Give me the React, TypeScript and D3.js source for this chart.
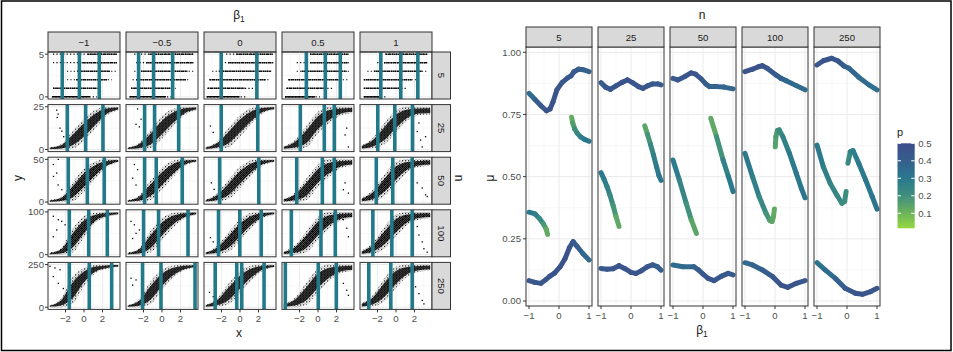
import React from "react";
import * as d3 from "d3";

// ---------------- data ----------------
const BETA_LABELS = ["\u22121", "\u22120.5", "0", "0.5", "1"];
const N_VALUES = [5, 25, 50, 100, 250];
const X_TICKS = [-2, 0, 2];
const MU_TICKS = [0, 0.25, 0.5, 0.75, 1];
const BETA_TICKS = [-1, 0, 1];
const P_TICKS = [0.1, 0.2, 0.3, 0.4, 0.5];

// vertical reference lines (x) per row (n) and column (beta1)
const VLINES: number[][][] = [
  [[-2.35, -0.5, 1.65], [-2.53, -0.91, 1.15], [-2.03, 1.82], [-1.26, 0.79, 2.41], [-1.64, 0.52, 2.36]],
  [[-1.8, 0.18, 2.05], [-1.88, -0.8, 1.8], [-2.03, 1.92], [-1.91, 0.68, 1.76], [-1.97, -0.13, 1.78]],
  [[-1.7, 0.36, 2.19], [-1.88, -0.62, 2.19], [-2.2, 2.03], [-2.3, 0.47, 1.76], [-2.13, -0.35, 1.75]],
  [[-1.59, 0.51, 2.52], [-1.99, -0.37, 2.81], [-2.32, -0.02, 2.29], [-2.88, 0.32, 1.87], [-2.5, -0.45, 1.75]],
  [[-1.59, 0.57, 2.99], [-2.1, -0.11, 3.57], [-2.68, -0.35, 0.19, 2.6], [-3.53, 0.03, 1.98], [-2.94, -0.56, 1.75]],
];

// n = 5 row: for each beta column, per level [level, sparseStart, denseStart, denseEnd, sparseEnd]
const LEVELS_N5: number[][][] = [
  [[5, -3.35, 0.43, 3.57, 3.6], [4, -3.35, -0.2, 3.57, 3.6], [3, -1.84, -0.76, 2.8, 3.5], [2, -1.84, -0.86, 2.5, 3.0], [1, -3.35, -3.35, 1.4, 1.8], [0, -3.46, -3.46, 0.65, 1.4]],
  [[5, -3.0, -1.37, 3.4, 3.4], [4, -2.8, -1.73, 3.4, 3.4], [3, -3.0, -2.27, 2.77, 3.4], [2, -3.18, -2.8, 2.6, 2.9], [1, -3.35, -3.35, 1.15, 1.5], [0, -3.5, -3.5, 0.43, 1.15]],
  [[5, -1.5, -0.4, 3.55, 3.6], [4, -2.0, -1.3, 3.55, 3.6], [3, -3.0, -2.3, 3.3, 3.5], [2, -3.3, -3.3, 2.83, 3.3], [1, -3.5, -3.5, 0.5, 1.5], [0, -3.6, -3.6, -0.05, 0.8]],
  [[5, -0.86, -0.86, 3.28, 3.3], [4, -2.3, -0.86, 3.28, 3.3], [3, -2.3, -1.77, 3.1, 3.4], [2, -3.2, -3.2, 2.38, 3.3], [1, -3.4, -3.4, 0.94, 1.6], [0, -3.57, -3.57, -0.32, 0.2]],
  [[5, -1.14, -1.14, 3.37, 3.4], [4, -2.03, -1.3, 3.37, 3.4], [3, -3.1, -2.4, 2.83, 3.37], [2, -3.48, -3.48, 1.75, 2.3], [1, -3.48, -3.48, 0.49, 1.2], [0, -3.48, -3.48, -1.5, -1.0]],
];

// rows n = 25..250: scatter cloud envelope (fraction of n) at BAND_X
const BAND_X = [-3.7, -2.5, -1.25, 0, 1.25, 2.5, 3.7];
const BAND_LO: number[][][] = [
  [[0, 0, 0.02, 0.2, 0.5, 0.8, 0.92], [0, 0, 0.03, 0.25, 0.55, 0.82, 0.92], [0, 0.01, 0.05, 0.3, 0.6, 0.85, 0.93], [0, 0, 0.05, 0.38, 0.62, 0.8, 0.85], [0, 0.02, 0.12, 0.4, 0.68, 0.8, 0.82]],
  [[0, 0, 0.02, 0.25, 0.55, 0.82, 0.93], [0, 0, 0.05, 0.3, 0.6, 0.85, 0.93], [0, 0.01, 0.07, 0.33, 0.63, 0.86, 0.93], [0, 0, 0.05, 0.35, 0.6, 0.8, 0.85], [0, 0.02, 0.14, 0.42, 0.7, 0.82, 0.85]],
  [[0, 0, 0.05, 0.4, 0.75, 0.88, 0.93], [0, 0, 0.05, 0.35, 0.65, 0.85, 0.93], [0, 0.01, 0.07, 0.33, 0.63, 0.86, 0.93], [0, 0, 0.06, 0.35, 0.62, 0.8, 0.85], [0, 0.02, 0.14, 0.42, 0.7, 0.82, 0.85]],
  [[0, 0, 0.08, 0.5, 0.8, 0.9, 0.94], [0, 0, 0.07, 0.4, 0.7, 0.87, 0.93], [0, 0.01, 0.07, 0.33, 0.63, 0.86, 0.93], [0, 0, 0.06, 0.35, 0.62, 0.8, 0.85], [0, 0.02, 0.14, 0.45, 0.72, 0.83, 0.86]],
];
const BAND_HI: number[][][] = [
  [[0.05, 0.12, 0.42, 0.72, 0.93, 1, 1], [0.05, 0.15, 0.45, 0.78, 0.95, 1, 1], [0.06, 0.18, 0.5, 0.8, 0.97, 1, 1], [0.08, 0.22, 0.55, 0.88, 1, 1, 1], [0.1, 0.27, 0.62, 0.92, 1, 1, 1]],
  [[0.05, 0.12, 0.45, 0.78, 0.95, 1, 1], [0.05, 0.15, 0.5, 0.8, 0.97, 1, 1], [0.06, 0.2, 0.52, 0.82, 0.98, 1, 1], [0.08, 0.22, 0.55, 0.88, 1, 1, 1], [0.1, 0.28, 0.65, 0.94, 1, 1, 1]],
  [[0.05, 0.15, 0.6, 0.9, 0.98, 1, 1], [0.05, 0.15, 0.55, 0.85, 0.98, 1, 1], [0.06, 0.2, 0.52, 0.82, 0.98, 1, 1], [0.08, 0.22, 0.55, 0.88, 1, 1, 1], [0.1, 0.28, 0.65, 0.94, 1, 1, 1]],
  [[0.05, 0.2, 0.7, 0.92, 0.99, 1, 1], [0.05, 0.18, 0.6, 0.88, 0.98, 1, 1], [0.06, 0.2, 0.55, 0.85, 0.98, 1, 1], [0.08, 0.22, 0.58, 0.9, 1, 1, 1], [0.1, 0.28, 0.68, 0.95, 1, 1, 1]],
];

// isolated points outside the clouds, per row (n = 25..250) and column: [x, fraction of n]
const OUTLIERS: number[][][][] = [
  [
    [[-2.95, 0.92], [-2.8, 0.83], [-2.9, 0.75], [-2.6, 0.5], [-2.4, 0.43], [-2.2, 0.3]],
    [[-2.64, 0.95], [-2.27, 0.71], [-2.81, 0.59], [-2.45, 0.53]],
    [[-3.2, 0.55], [-2.9, 0.4]],
    [[2.92, 0.34], [3.28, 0.06], [3.1, 0.5]],
    [[2.29, 0.42], [2.65, 0.22], [2.83, 0.06], [3.19, 0.3], [2.47, 0.62]],
  ],
  [
    [[-3.32, 0.88], [-2.78, 1.0], [-2.95, 0.68], [-3.3, 0.6], [-2.8, 0.4], [-2.4, 0.29]],
    [[-2.99, 0.88], [-2.64, 0.76], [-3.18, 0.56], [-2.81, 0.4]],
    [[-3.1, 0.45], [-2.8, 0.3]],
    [[2.92, 0.45], [3.28, 0.21], [2.74, 0.29]],
    [[2.29, 0.45], [2.83, 0.33], [3.19, 0.17], [3.37, 0.13]],
  ],
  [
    [[-3.32, 0.9], [-2.78, 0.82], [-2.41, 0.78], [-2.95, 0.58], [-2.05, 0.7], [-3.32, 0.42]],
    [[-3.35, 0.78], [-2.99, 0.7], [-2.81, 0.5], [-3.18, 0.38], [-2.45, 0.58]],
    [[-3.2, 0.4], [-2.9, 0.3]],
    [[2.74, 0.82], [3.1, 0.62], [3.28, 0.42]],
    [[2.29, 0.66], [2.47, 0.46], [2.83, 0.3], [3.01, 0.14], [3.37, 0.06]],
  ],
  [
    [[-3.68, 0.96], [-3.14, 0.92], [-2.59, 0.88], [-3.32, 0.72], [-2.78, 0.56], [-2.24, 0.44]],
    [[-3.35, 0.68], [-2.81, 0.64], [-3.18, 0.52]],
    [[-3.3, 0.35], [-2.9, 0.25]],
    [[2.74, 0.56], [3.1, 0.4], [3.28, 0.28]],
    [[2.11, 0.48], [2.47, 0.32], [2.83, 0.16], [3.01, 0.08]],
  ],
];

// right plot: curves per panel n, points [beta1, mu, p]
const CURVES: number[][][][] = [
  [
    [[-1, 0.835, 0.32], [-0.8, 0.81, 0.38], [-0.6, 0.785, 0.43], [-0.42, 0.765, 0.45], [-0.3, 0.772, 0.46], [-0.2, 0.8, 0.46], [-0.07, 0.849, 0.46], [0.1, 0.878, 0.45], [0.3, 0.898, 0.44], [0.4, 0.905, 0.44], [0.5, 0.922, 0.43], [0.65, 0.932, 0.42], [0.8, 0.93, 0.4], [1, 0.922, 0.38]],
    [[0.42, 0.739, 0.1], [0.46, 0.715, 0.14], [0.52, 0.693, 0.18], [0.61, 0.674, 0.22], [0.72, 0.66, 0.26], [0.85, 0.65, 0.29], [1, 0.642, 0.31]],
    [[-1, 0.357, 0.31], [-0.8, 0.35, 0.29], [-0.65, 0.332, 0.25], [-0.52, 0.31, 0.2], [-0.43, 0.29, 0.15], [-0.38, 0.268, 0.1]],
    [[-1, 0.082, 0.45], [-0.8, 0.075, 0.45], [-0.6, 0.071, 0.44], [-0.45, 0.085, 0.45], [-0.3, 0.1, 0.46], [-0.15, 0.112, 0.46], [0.04, 0.138, 0.46], [0.2, 0.17, 0.46], [0.35, 0.215, 0.46], [0.47, 0.239, 0.45], [0.6, 0.22, 0.42], [0.8, 0.19, 0.38], [1, 0.165, 0.34]],
  ],
  [
    [[-1, 0.878, 0.4], [-0.85, 0.86, 0.44], [-0.69, 0.851, 0.45], [-0.5, 0.865, 0.45], [-0.3, 0.879, 0.46], [-0.12, 0.889, 0.46], [0.05, 0.878, 0.46], [0.25, 0.862, 0.45], [0.4, 0.855, 0.45], [0.55, 0.865, 0.45], [0.72, 0.873, 0.44], [0.9, 0.873, 0.43], [1, 0.869, 0.42]],
    [[-1, 0.516, 0.31], [-0.9, 0.49, 0.29], [-0.8, 0.46, 0.27], [-0.7, 0.425, 0.24], [-0.6, 0.385, 0.2], [-0.5, 0.34, 0.16], [-0.4, 0.3, 0.1]],
    [[0.46, 0.704, 0.12], [0.55, 0.67, 0.16], [0.65, 0.63, 0.21], [0.75, 0.587, 0.25], [0.85, 0.54, 0.28], [0.93, 0.505, 0.3], [1, 0.485, 0.31]],
    [[-1, 0.131, 0.43], [-0.8, 0.128, 0.44], [-0.6, 0.13, 0.45], [-0.4, 0.142, 0.45], [-0.2, 0.13, 0.46], [0, 0.115, 0.46], [0.16, 0.111, 0.46], [0.35, 0.122, 0.45], [0.55, 0.138, 0.45], [0.72, 0.145, 0.44], [0.88, 0.138, 0.42], [1, 0.124, 0.38]],
  ],
  [
    [[-1, 0.895, 0.42], [-0.84, 0.889, 0.44], [-0.6, 0.903, 0.45], [-0.4, 0.917, 0.46], [-0.25, 0.912, 0.46], [-0.06, 0.893, 0.44], [0.1, 0.872, 0.42], [0.22, 0.862, 0.4], [0.45, 0.862, 0.39], [0.7, 0.86, 0.38], [1, 0.853, 0.37]],
    [[-1, 0.567, 0.3], [-0.79, 0.487, 0.27], [-0.56, 0.393, 0.22], [-0.39, 0.326, 0.17], [-0.22, 0.272, 0.11]],
    [[0.26, 0.735, 0.1], [0.45, 0.661, 0.16], [0.67, 0.567, 0.23], [0.85, 0.5, 0.28], [1, 0.44, 0.31]],
    [[-1, 0.145, 0.34], [-0.67, 0.138, 0.35], [-0.3, 0.138, 0.37], [-0.15, 0.125, 0.41], [0, 0.108, 0.44], [0.17, 0.091, 0.46], [0.37, 0.082, 0.46], [0.62, 0.1, 0.45], [0.84, 0.111, 0.43], [1, 0.105, 0.42]],
  ],
  [
    [[-1, 0.922, 0.45], [-0.75, 0.932, 0.46], [-0.55, 0.942, 0.46], [-0.42, 0.946, 0.46], [-0.25, 0.935, 0.45], [0.03, 0.909, 0.42], [0.2, 0.895, 0.4], [0.37, 0.886, 0.38], [0.71, 0.866, 0.35], [1, 0.849, 0.34]],
    [[-1, 0.594, 0.3], [-0.75, 0.5, 0.28], [-0.53, 0.42, 0.25], [-0.3, 0.353, 0.21], [-0.18, 0.325, 0.17], [-0.1, 0.32, 0.14], [-0.05, 0.34, 0.13], [-0.02, 0.37, 0.12]],
    [[0.01, 0.62, 0.14], [0.03, 0.661, 0.16], [0.08, 0.685, 0.18], [0.14, 0.688, 0.2], [0.26, 0.661, 0.24], [0.48, 0.594, 0.28], [0.71, 0.513, 0.3], [0.88, 0.453, 0.31], [1, 0.415, 0.31]],
    [[-1, 0.154, 0.35], [-0.75, 0.145, 0.37], [-0.42, 0.125, 0.4], [-0.08, 0.098, 0.43], [0.2, 0.064, 0.46], [0.43, 0.055, 0.46], [0.71, 0.071, 0.45], [1, 0.082, 0.44]],
  ],
  [
    [[-1, 0.949, 0.44], [-0.79, 0.966, 0.46], [-0.51, 0.976, 0.46], [-0.3, 0.965, 0.45], [-0.1, 0.945, 0.43], [0.06, 0.936, 0.4], [0.39, 0.9, 0.36], [0.73, 0.869, 0.34], [1, 0.849, 0.33]],
    [[-1, 0.627, 0.3], [-0.79, 0.54, 0.28], [-0.56, 0.473, 0.26], [-0.34, 0.426, 0.24], [-0.17, 0.393, 0.22], [-0.08, 0.4, 0.21], [-0.03, 0.44, 0.2]],
    [[0.03, 0.554, 0.21], [0.11, 0.6, 0.24], [0.2, 0.605, 0.27], [0.39, 0.554, 0.29], [0.62, 0.487, 0.3], [0.84, 0.42, 0.31], [1, 0.369, 0.32]],
    [[-1, 0.154, 0.31], [-0.73, 0.125, 0.33], [-0.39, 0.091, 0.37], [-0.06, 0.051, 0.42], [0.28, 0.031, 0.45], [0.51, 0.027, 0.46], [0.79, 0.038, 0.45], [1, 0.051, 0.44]],
  ],
];

const P_STOPS = [0.014, 0.1, 0.2, 0.3, 0.4, 0.5];
const P_COLORS = ["#95D840", "#6DB35A", "#3F8F7E", "#2A788E", "#35608D", "#3E4C8A"];

// ---------------- component ----------------
const FONT = "Liberation Sans, Arial, sans-serif";
const TICK = "#4D4D4D";
const VLINE = "#22798A";

function Beta1({ x, y, size }: { x: number; y: number; size: number }) {
  return (
    <text x={x} y={y} fontSize={size} textAnchor="middle" fill="#1A1A1A" fontFamily={FONT}>
      {"\u03B2"}
      <tspan fontSize={size * 0.7} dy={size * 0.25}>1</tspan>
    </text>
  );
}

export default function App() {
  const color = d3.scaleLinear<string>().domain(P_STOPS).range(P_COLORS).interpolate(d3.interpolateRgb);

  // left plot geometry
  const PW = 72, PH = 47;
  const colX = (c: number) => 48 + c * 78;
  const rowY = (r: number) => 52 + r * 52.6;
  const xs = d3.scaleLinear().domain([-3.89, 3.89]).range([0, PW]);

  const leftPanels: React.ReactNode[] = [];
  N_VALUES.forEach((n, r) => {
    const ys = d3.scaleLinear().domain([-0.05 * n, 1.05 * n]).range([PH, 0]);
    BETA_LABELS.forEach((_, c) => {
      const ox = colX(c), oy = rowY(r);
      const key = `${r}-${c}`;
      const els: React.ReactNode[] = [];
      // grid
      [-3, -1, 1, 3].forEach((v) => els.push(<line key={"mx" + v} x1={xs(v)} x2={xs(v)} y1={0} y2={PH} stroke="#F2F2F2" strokeWidth={0.6} />));
      [n / 2].forEach((v) => els.push(<line key={"my" + v} x1={0} x2={PW} y1={ys(v)} y2={ys(v)} stroke="#F2F2F2" strokeWidth={0.6} />));
      X_TICKS.forEach((v) => els.push(<line key={"gx" + v} x1={xs(v)} x2={xs(v)} y1={0} y2={PH} stroke="#EBEBEB" strokeWidth={1} />));
      [0, n].forEach((v) => els.push(<line key={"gy" + v} x1={0} x2={PW} y1={ys(v)} y2={ys(v)} stroke="#EBEBEB" strokeWidth={1} />));
      if (r === 0) {
        LEVELS_N5[c].forEach(([lv, s0, d0, d1, s1]) => {
          els.push(<line key={"s" + lv} x1={xs(s0)} x2={xs(s1)} y1={ys(lv)} y2={ys(lv)} stroke="#000" strokeWidth={1.2} strokeDasharray="1.2 2.2" />);
          els.push(<line key={"d" + lv} x1={xs(d0)} x2={xs(d1)} y1={ys(lv)} y2={ys(lv)} stroke="#000" strokeWidth={1.5} strokeDasharray={lv === 0 ? "none" : "1.6 0.5"} />);
        });
      } else {
        const lo = BAND_LO[r - 1][c], hi = BAND_HI[r - 1][c];
        const pts = BAND_X.map((x, i) => ({ x, lo: lo[i] * n, hi: hi[i] * n }));
        const outer = d3.area<any>().x((d) => xs(d.x)).y0((d) => ys(d.lo)).y1((d) => ys(d.hi)).curve(d3.curveMonotoneX);
        const inner = d3.area<any>().x((d) => xs(d.x)).y0((d) => ys(d.lo + 0.2 * (d.hi - d.lo))).y1((d) => ys(d.hi - 0.2 * (d.hi - d.lo))).curve(d3.curveMonotoneX);
        els.push(<path key="outer" d={outer(pts) || ""} fill="url(#sparse)" />);
        els.push(<path key="inner" d={inner(pts) || ""} fill="url(#dense)" />);
        OUTLIERS[r - 1][c].forEach(([x, f], i) =>
          els.push(<rect key={"o" + i} x={xs(x) - 0.6} y={ys(f * n) - 0.6} width={1.3} height={1.3} fill="#000" />)
        );
      }
      VLINES[r][c].forEach((v, i) => els.push(<line key={"v" + i} x1={xs(v)} x2={xs(v)} y1={0} y2={PH} stroke={VLINE} strokeWidth={3.6} />));
      leftPanels.push(
        <g key={key} transform={`translate(${ox},${oy})`}>
          <clipPath id={"cl" + key}><rect x={0} y={0} width={PW} height={PH} /></clipPath>
          <g clipPath={`url(#cl${key})`}>{els}</g>
          <rect x={0} y={0} width={PW} height={PH} fill="none" stroke="#333" strokeWidth={1} />
        </g>
      );
    });
  });

  // right plot geometry
  const RPW = 66, RTOP = 47, RBOT = 306;
  const rcolX = (c: number) => 526 + c * 72;
  const bs = d3.scaleLinear().domain([-1.1, 1.1]).range([0, RPW]);
  const ms = d3.scaleLinear().domain([0, 1]).range([301 - RTOP, 52.3 - RTOP]);
  const RH = RBOT - RTOP;

  const rightPanels = N_VALUES.map((n, c) => {
    const els: React.ReactNode[] = [];
    [-0.5, 0.5].forEach((v) => els.push(<line key={"mx" + v} x1={bs(v)} x2={bs(v)} y1={0} y2={RH} stroke="#F2F2F2" strokeWidth={0.6} />));
    [0.125, 0.375, 0.625, 0.875].forEach((v) => els.push(<line key={"my" + v} x1={0} x2={RPW} y1={ms(v)} y2={ms(v)} stroke="#F2F2F2" strokeWidth={0.6} />));
    BETA_TICKS.forEach((v) => els.push(<line key={"gx" + v} x1={bs(v)} x2={bs(v)} y1={0} y2={RH} stroke="#EBEBEB" strokeWidth={1} />));
    MU_TICKS.forEach((v) => els.push(<line key={"gy" + v} x1={0} x2={RPW} y1={ms(v)} y2={ms(v)} stroke="#EBEBEB" strokeWidth={1} />));
    CURVES[c].forEach((seg, si) => {
      for (let i = 0; i < seg.length - 1; i++) {
        const a = seg[i], b = seg[i + 1];
        els.push(
          <line key={`c${si}-${i}`} x1={bs(a[0])} y1={ms(a[1])} x2={bs(b[0])} y2={ms(b[1])}
            stroke={color((a[2] + b[2]) / 2)} strokeWidth={5} strokeLinecap="round" />
        );
      }
    });
    return (
      <g key={"r" + n} transform={`translate(${rcolX(c)},${RTOP})`}>
        {els}
        <rect x={0} y={0} width={RPW} height={RH} fill="none" stroke="#333" strokeWidth={1} />
        <rect x={0} y={-20} width={RPW} height={20} fill="#D9D9D9" stroke="#333" strokeWidth={1} />
        <text x={RPW / 2} y={-6.5} textAnchor="middle" fontSize={9.6} fill="#1A1A1A" fontFamily={FONT}>{n}</text>
        {BETA_TICKS.map((v) => (
          <g key={"t" + v}>
            <line x1={bs(v)} x2={bs(v)} y1={RH} y2={RH + 3} stroke="#333" />
            <text x={bs(v)} y={RH + 12.5} textAnchor="middle" fontSize={9.6} fill={TICK} fontFamily={FONT}>{v < 0 ? "\u2212" + Math.abs(v) : String(v)}</text>
          </g>
        ))}
      </g>
    );
  });

  // legend
  const LX = 897.5, LT = 143.3, LB = 228.3, LW = 17.2;
  const ps = d3.scaleLinear().domain([0.5, 0.014]).range([LT, LB]);

  return (
    <svg width={953} height={352} style={{ position: "absolute", left: 0, top: 0, background: "#fff" }} fontFamily={FONT}>
      <defs>
        <pattern id="dense" width={2} height={2} patternUnits="userSpaceOnUse">
          <rect x={0} y={0} width={1.6} height={1.6} fill="#000" />
          <rect x={1} y={1} width={1} height={1} fill="#000" />
        </pattern>
        <pattern id="sparse" width={3} height={3} patternUnits="userSpaceOnUse">
          <rect x={0} y={0} width={1.2} height={1.2} fill="#000" />
          <rect x={1.6} y={1.7} width={0.9} height={0.9} fill="#111" />
        </pattern>
        <linearGradient id="pgrad" x1="0" y1="0" x2="0" y2="1">
          {d3.range(0, 21).map((i) => {
            const p = 0.5 - (i / 20) * (0.5 - 0.014);
            return <stop key={i} offset={`${(i / 20) * 100}%`} stopColor={color(p)} />;
          })}
        </linearGradient>
      </defs>
      <rect x={0} y={0} width={953} height={352} fill="#fff" />

      {/* left plot */}
      <Beta1 x={239} y={19} size={12} />
      {BETA_LABELS.map((lab, c) => (
        <g key={"ls" + c} transform={`translate(${colX(c)},32)`}>
          <rect x={0} y={0} width={PW} height={20} fill="#D9D9D9" stroke="#333" strokeWidth={1} />
          <text x={PW / 2} y={13.5} textAnchor="middle" fontSize={9.6} fill="#1A1A1A">{lab}</text>
        </g>
      ))}
      {leftPanels}
      {N_VALUES.map((n, r) => {
        const ys = d3.scaleLinear().domain([-0.05 * n, 1.05 * n]).range([PH, 0]);
        const oy = rowY(r);
        return (
          <g key={"ly" + n}>
            {[0, n].map((v) => (
              <g key={v}>
                <line x1={45} x2={48} y1={oy + ys(v)} y2={oy + ys(v)} stroke="#333" />
                <text x={44} y={oy + ys(v) + 3.4} textAnchor="end" fontSize={9.6} fill={TICK}>{v}</text>
              </g>
            ))}
            <rect x={colX(4) + PW} y={oy} width={18.5} height={PH} fill="#D9D9D9" stroke="#333" strokeWidth={1} />
            <text transform={`translate(${colX(4) + PW + 6},${oy + PH / 2}) rotate(90)`} textAnchor="middle" fontSize={9.6} fill="#1A1A1A">{n}</text>
          </g>
        );
      })}
      {BETA_LABELS.map((_, c) => (
        <g key={"lx" + c}>
          {X_TICKS.map((v) => (
            <g key={v}>
              <line x1={colX(c) + xs(v)} x2={colX(c) + xs(v)} y1={rowY(4) + PH} y2={rowY(4) + PH + 3} stroke="#333" />
              <text x={colX(c) + xs(v)} y={rowY(4) + PH + 12.5} textAnchor="middle" fontSize={9.6} fill={TICK}>{v < 0 ? "\u2212" + Math.abs(v) : String(v)}</text>
            </g>
          ))}
        </g>
      ))}
      <text x={239} y={337} textAnchor="middle" fontSize={12} fill="#1A1A1A">x</text>
      <text transform="translate(22,178) rotate(-90)" textAnchor="middle" fontSize={12} fill="#1A1A1A">y</text>
      <text transform="translate(455,178) rotate(90)" textAnchor="middle" fontSize={12} fill="#1A1A1A">n</text>

      {/* right plot */}
      <text x={702} y={19} textAnchor="middle" fontSize={12} fill="#1A1A1A">n</text>
      {rightPanels}
      {MU_TICKS.map((v) => (
        <g key={"my" + v}>
          <line x1={523} x2={526} y1={RTOP + ms(v)} y2={RTOP + ms(v)} stroke="#333" />
          <text x={521} y={RTOP + ms(v) + 3.4} textAnchor="end" fontSize={9.6} fill={TICK}>{v.toFixed(2)}</text>
        </g>
      ))}
      <text transform="translate(494,178) rotate(-90)" textAnchor="middle" fontSize={12} fill="#1A1A1A">{"\u03BC"}</text>
      <Beta1 x={702} y={334} size={12} />

      {/* legend */}
      <text x={897} y={136} fontSize={11} fill="#1A1A1A">p</text>
      <rect x={LX} y={LT} width={LW} height={LB - LT} fill="url(#pgrad)" />
      {P_TICKS.map((v) => (
        <g key={"pt" + v}>
          <line x1={LX} x2={LX + 3.5} y1={ps(v)} y2={ps(v)} stroke="#fff" strokeWidth={1} />
          <line x1={LX + LW - 3.5} x2={LX + LW} y1={ps(v)} y2={ps(v)} stroke="#fff" strokeWidth={1} />
          <text x={LX + LW + 3.5} y={ps(v) + 3.4} fontSize={9.6} fill={TICK}>{v.toFixed(1)}</text>
        </g>
      ))}

      {/* frame */}
      <rect x={1.5} y={1} width={949.5} height={349.5} fill="none" stroke="#000" strokeWidth={1.5} />
    </svg>
  );
}
